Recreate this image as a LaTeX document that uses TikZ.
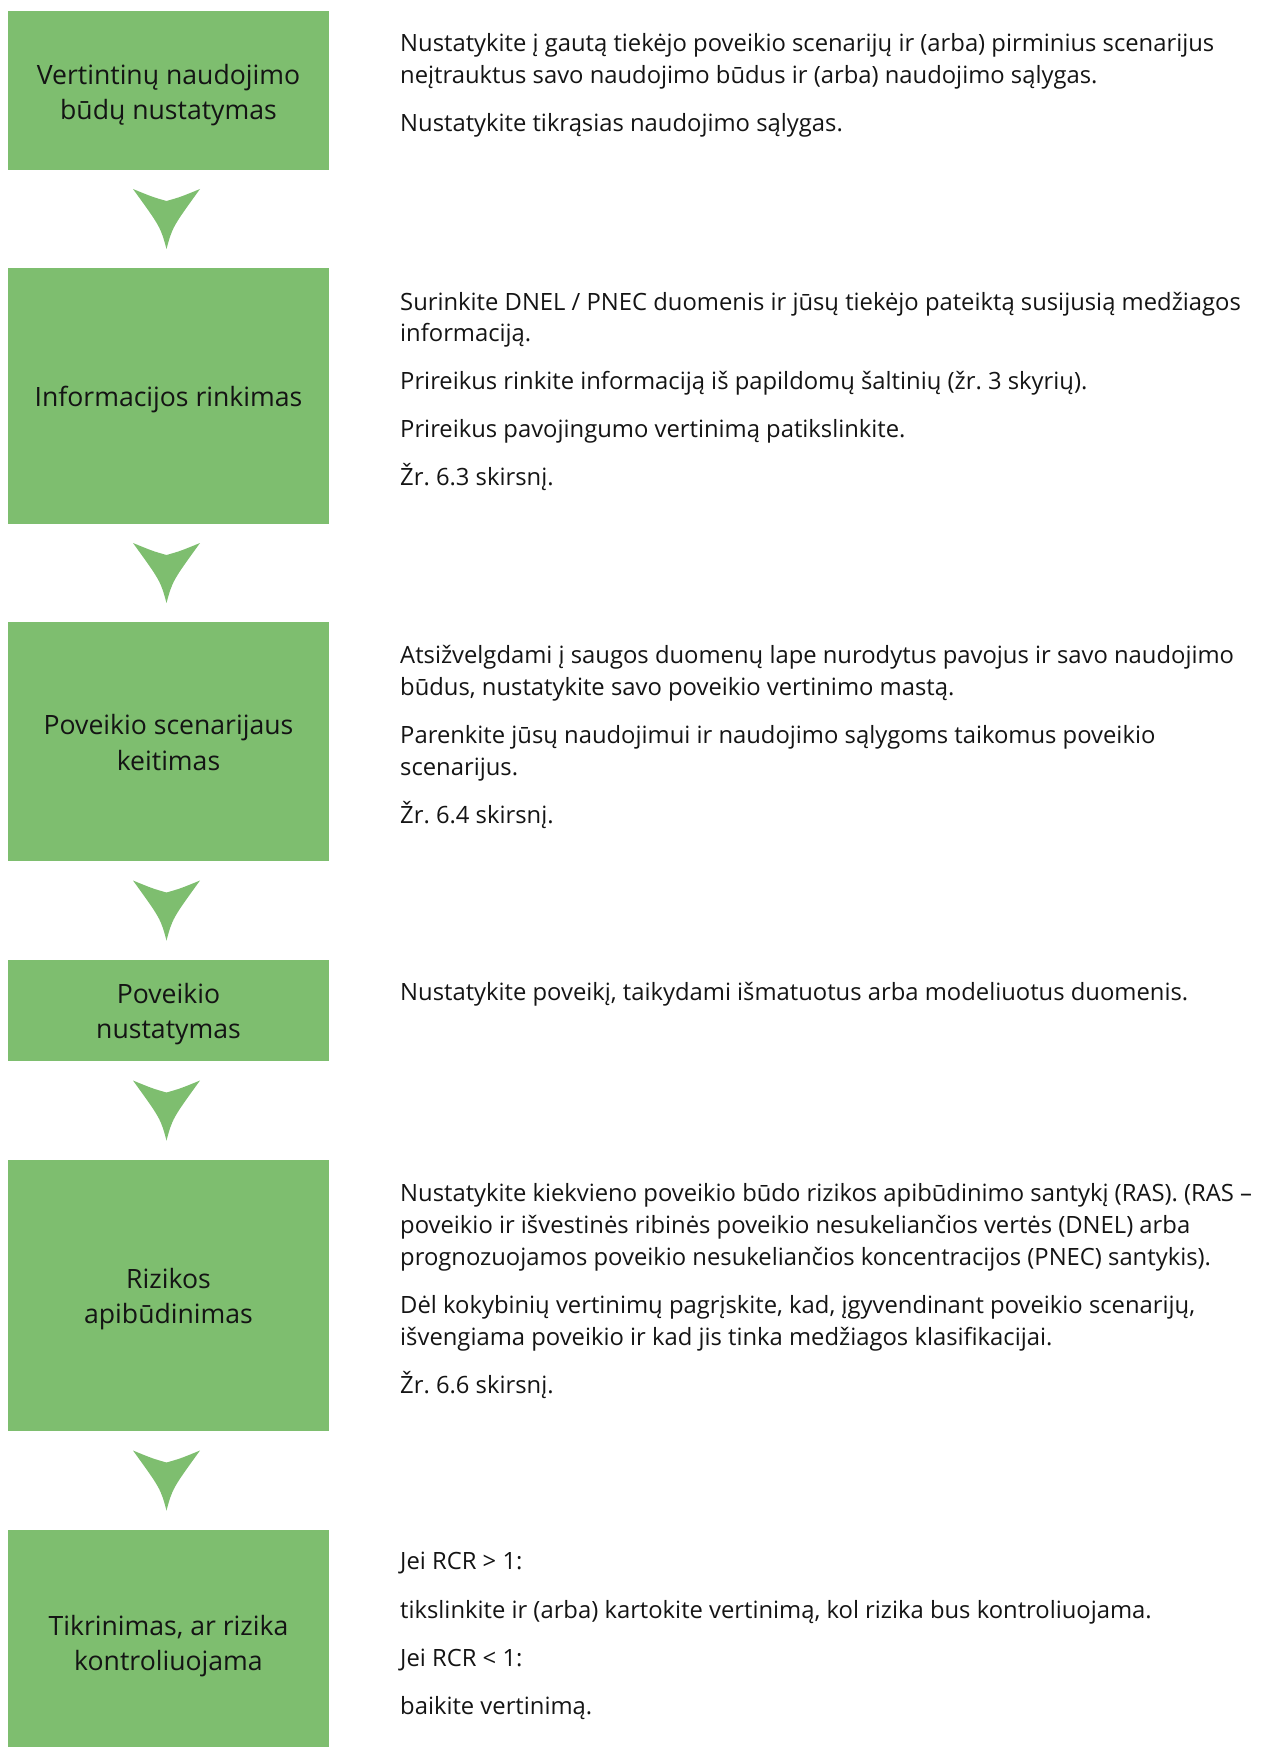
\documentclass[tikz,border=0pt]{standalone}
\usepackage{fontspec}
\setmainfont{Open Sans}
\frenchspacing
\usetikzlibrary{calc}
\definecolor{boxgreen}{RGB}{126,190,111}
\definecolor{txtcol}{RGB}{20,20,20}
\begin{document}
\begin{tikzpicture}[x=1pt,y=-1pt,
  box/.style={fill=boxgreen, draw=none, minimum width=321pt, inner sep=0pt},
  lbl/.style={inner sep=0pt, align=center, text=txtcol, font=\fontsize{26.6}{35.5}\selectfont},
  txt/.style={anchor=base west, inner sep=0pt, text=txtcol, font=\fontsize{23.8}{30}\selectfont},
  dnarrow/.pic={\fill[boxgreen] (-33.5,-30) .. controls (-14,-22) .. (0,-18) .. controls (14,-22) .. (33.5,-30) .. controls (6,8) .. (0,30) .. controls (-6,8) .. cycle;}
]
\useasboundingbox (0,0) rectangle (1263,1747);
% boxes
\node[box, minimum height=159pt] (b1) at (168.5,90.5) {};
\node[box, minimum height=256pt] (b2) at (168.5,396) {};
\node[box, minimum height=239pt] (b3) at (168.5,741.5) {};
\node[box, minimum height=101pt] (b4) at (168.5,1010.5) {};
\node[box, minimum height=271pt] (b5) at (168.5,1295.5) {};
\node[box, minimum height=221pt] (b6) at (168.5,1640.5) {};
% box labels
\node[lbl, yshift=-4.5pt] (l1) at (b1.center) {Vertintinų naudojimo\\būdų nustatymas};
\node[lbl, yshift=-3.5pt] (l2) at (b2.center) {Informacijos rinkimas};
\node[lbl, yshift=-1pt] (l3) at (b3.center) {Poveikio scenarijaus\\keitimas};
\node[lbl, yshift=-3.5pt] (l4) at (b4.center) {Poveikio\\nustatymas};
\node[lbl, yshift=-3.5pt] (l5) at (b5.center) {Rizikos\\apibūdinimas};
\node[lbl, yshift=-5.5pt] (l6) at (b6.center) {Tikrinimas, ar rizika\\kontroliuojama};
% arrows
\path ($(b1.south)!0.5!(b2.north)$) ++(-2,0) pic {dnarrow};
\path ($(b2.south)!0.5!(b3.north)$) ++(-2,0) pic {dnarrow};
\path ($(b3.south)!0.5!(b4.north)$) ++(-2,0) pic {dnarrow};
\path ($(b4.south)!0.5!(b5.north)$) ++(-2,0) pic {dnarrow};
\path ($(b5.south)!0.5!(b6.north)$) ++(-2,0) pic {dnarrow};
% block 1
\node[txt] (t1a) at (400,51.5) {Nustatykite į gautą tiekėjo poveikio scenarijų ir (arba) pirminius scenarijus};
\node[txt] (t1b) at (400,83.5) {neįtrauktus savo naudojimo būdus ir (arba) naudojimo sąlygas.};
\node[txt] (t1c) at (400,132) {Nustatykite tikrąsias naudojimo sąlygas.};
% block 2
\node[txt] (t2a) at (400,310) {Surinkite DNEL / PNEC duomenis ir jūsų tiekėjo pateiktą susijusią medžiagos};
\node[txt] (t2b) at (400,341) {informaciją.};
\node[txt] (t2c) at (400,389) {Prireikus rinkite informaciją iš papildomų šaltinių (žr. 3 skyrių).};
\node[txt] (t2d) at (400,437) {Prireikus pavojingumo vertinimą patikslinkite.};
\node[txt] (t2e) at (400,485.5) {Žr. 6.3 skirsnį.};
% block 3
\node[txt] (t3a) at (400,663) {Atsižvelgdami į saugos duomenų lape nurodytus pavojus ir savo naudojimo};
\node[txt] (t3b) at (400,695) {būdus, nustatykite savo poveikio vertinimo mastą.};
\node[txt] (t3c) at (400,743) {Parenkite jūsų naudojimui ir naudojimo sąlygoms taikomus poveikio};
\node[txt] (t3d) at (400,775) {scenarijus.};
\node[txt] (t3e) at (400,823) {Žr. 6.4 skirsnį.};
% block 4
\node[txt] (t4a) at (400,1000) {Nustatykite poveikį, taikydami išmatuotus arba modeliuotus duomenis.};
% block 5
\node[txt] (t5a) at (400,1201) {Nustatykite kiekvieno poveikio būdo rizikos apibūdinimo santykį (RAS). (RAS –};
\node[txt] (t5b) at (400,1233) {poveikio ir išvestinės ribinės poveikio nesukeliančios vertės (DNEL) arba};
\node[txt] (t5c) at (400,1265) {prognozuojamos poveikio nesukeliančios koncentracijos (PNEC) santykis).};
\node[txt] (t5d) at (400,1313) {Dėl kokybinių vertinimų pagrįskite, kad, įgyvendinant poveikio scenarijų,};
\node[txt] (t5e) at (400,1345.5) {išvengiama poveikio ir kad jis tinka medžiagos klasifikacijai.};
\node[txt] (t5f) at (400,1393.5) {Žr. 6.6 skirsnį.};
% block 6
\node[txt] (t6a) at (400,1569) {Jei RCR > 1:};
\node[txt] (t6b) at (400,1618) {tikslinkite ir (arba) kartokite vertinimą, kol rizika bus kontroliuojama.};
\node[txt] (t6c) at (400,1666) {Jei RCR < 1:};
\node[txt] (t6d) at (400,1714) {baikite vertinimą.};
\end{tikzpicture}
\end{document}
